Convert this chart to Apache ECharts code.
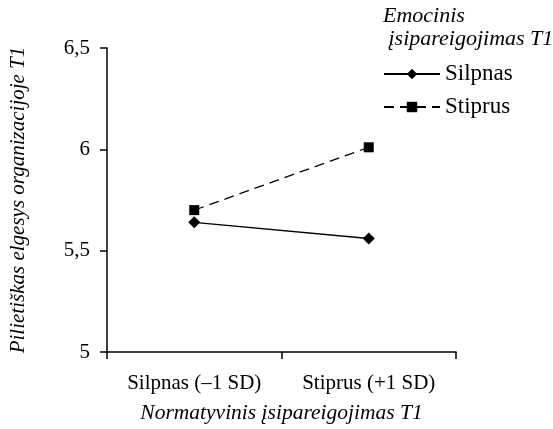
<!DOCTYPE html>
<html>
<head>
<meta charset="utf-8">
<script src="https://cdn.jsdelivr.net/npm/echarts@6/dist/echarts.min.js"></script>
<style>
  html, body { margin: 0; padding: 0; background: #fff; }
  #chart { width: 553px; height: 429px; }
</style>
</head>
<body>
<div id="chart"></div>
<script>
// Normatyvinis įsipareigojimas (x) × emocinis įsipareigojimas (lines)
const categories = ['Silpnas (\u20131 SD)', 'Stiprus (+1 SD)'];
const silpnasValues = [5.64, 5.56];
const stiprusValues = [5.70, 6.01];
const yTicks = [5, 5.5, 6, 6.5];

const FONT = '"Liberation Serif", "Times New Roman", serif';

const chart = echarts.init(document.getElementById('chart'));

chart.setOption({
  animation: false,
  backgroundColor: '#fff',
  textStyle: { fontFamily: FONT, color: '#000' },
  title: {
    text: 'Emocinis\n įsipareigojimas T1',
    left: 383,
    top: 5,
    padding: 0,
    textStyle: {
      fontFamily: FONT,
      fontStyle: 'italic',
      fontWeight: 'normal',
      fontSize: 22,
      lineHeight: 23,
      color: '#000'
    }
  },
  legend: {
    orient: 'vertical',
    left: 383,
    top: 62,
    padding: 0,
    itemWidth: 56,
    itemHeight: 13,
    itemGap: 9,
    textStyle: { fontFamily: FONT, fontSize: 23, lineHeight: 24, color: '#000' },
    data: ['Silpnas', 'Stiprus']
  },
  grid: { left: 105, right: 97, top: 48, bottom: 75 },
  xAxis: {
    type: 'category',
    data: categories,
    boundaryGap: true,
    name: 'Normatyvinis įsipareigojimas T1',
    nameLocation: 'middle',
    nameGap: 50,
    nameTextStyle: { fontFamily: FONT, fontStyle: 'italic', fontSize: 21.5, color: '#000' },
    axisLine: { lineStyle: { color: '#000', width: 1.5 } },
    axisTick: { show: true, length: 7, lineStyle: { color: '#000', width: 1.5 } },
    axisLabel: { fontFamily: FONT, fontSize: 21, color: '#000', margin: 21 },
    splitLine: { show: false }
  },
  yAxis: {
    type: 'value',
    min: yTicks[0],
    max: yTicks[yTicks.length - 1],
    interval: 0.5,
    name: 'Pilietiškas elgesys organizacijoje T1',
    nameLocation: 'middle',
    nameGap: 78,
    nameTextStyle: { fontFamily: FONT, fontStyle: 'italic', fontSize: 21, color: '#000' },
    axisLine: { show: true, lineStyle: { color: '#000', width: 1.5 } },
    axisTick: { show: true, length: 7, lineStyle: { color: '#000', width: 1.5 } },
    axisLabel: {
      fontFamily: FONT, fontSize: 21, color: '#000', margin: 17,
      formatter: v => String(v).replace('.', ',')
    },
    splitLine: { show: false }
  },
  series: [
    {
      name: 'Silpnas',
      type: 'line',
      data: silpnasValues,
      symbol: 'diamond',
      symbolSize: 12,
      color: '#000',
      itemStyle: { color: '#000' },
      lineStyle: { color: '#000', width: 1.3, type: 'solid' }
    },
    {
      name: 'Stiprus',
      type: 'line',
      data: stiprusValues,
      symbol: 'rect',
      symbolSize: 10,
      color: '#000',
      itemStyle: { color: '#000' },
      lineStyle: { color: '#000', width: 1.3, type: [10, 6] }
    }
  ]
});
</script>
</body>
</html>
